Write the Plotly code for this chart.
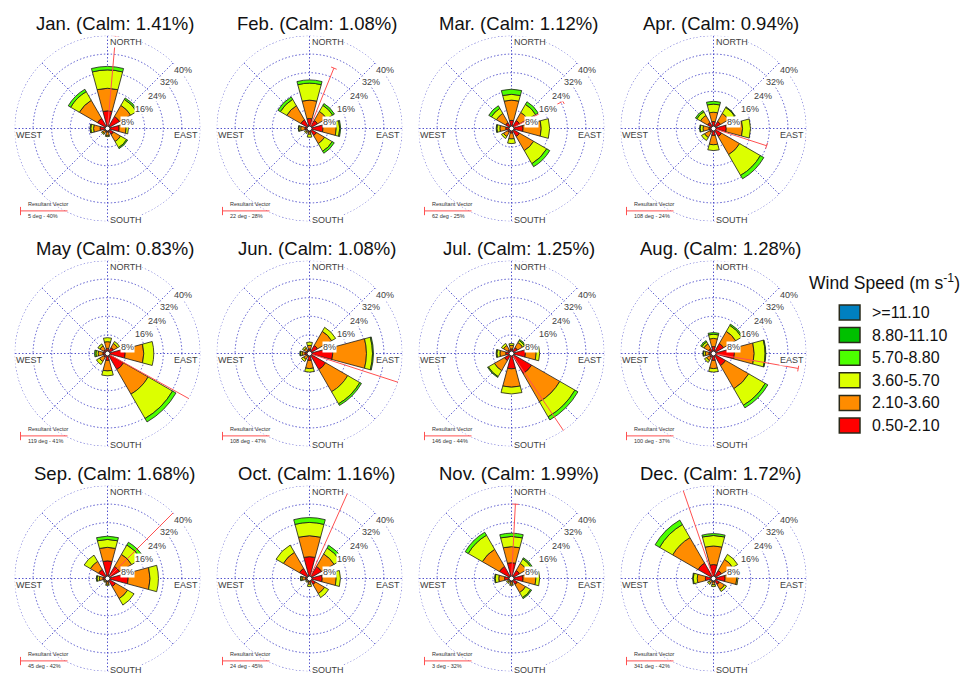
import math
import plotly.graph_objects as go

W, H = 968, 675
R_PX = 93          # radius of each rose in pixels
R_MAX = 40         # outer ring value (%)

MONTHS = ["Jan.", "Feb.", "Mar.", "Apr.", "May", "Jun.",
          "Jul.", "Aug.", "Sep.", "Oct.", "Nov.", "Dec."]
CALM = [1.41, 1.08, 1.12, 0.94, 0.83, 1.08, 1.25, 1.28, 1.68, 1.16, 1.99, 1.72]
VECTOR_DIR = [5, 22, 62, 108, 119, 108, 146, 100, 45, 24, 3, 341]
VECTOR_PCT = [40, 28, 25, 24, 41, 47, 44, 37, 42, 45, 32, 42]

DIRECTIONS = [0, 45, 90, 135, 180, 225, 270, 315]
RINGS = [8, 16, 24, 32, 40]
SPEED_BINS = ["0.50-2.10", "2.10-3.60", "3.60-5.70", "5.70-8.80", "8.80-11.10", ">=11.10"]
BIN_COLORS = ["#ff0000", "#ff8c00", "#dcff00", "#4cff00", "#00c000", "#0080c0"]

# Frequency (%) per month, directions N, NE, E, SE, S, SW, W, NW
FREQ_050_210 = [
    [7.6, 6.0, 5.0, 3.0, 1.5, 1.5, 3.2, 5.0],
    [4.3, 4.0, 5.8, 3.5, 1.5, 1.2, 2.0, 4.3],
    [3.5, 4.0, 5.0, 4.0, 2.0, 2.0, 2.5, 3.0],
    [3.0, 3.5, 5.5, 4.0, 3.0, 2.0, 2.0, 3.0],
    [2.2, 3.0, 7.6, 8.0, 3.0, 2.0, 2.0, 2.0],
    [2.0, 4.0, 10.0, 8.0, 3.0, 1.5, 2.0, 1.5],
    [2.0, 3.0, 6.0, 10.0, 6.6, 3.5, 2.5, 2.0],
    [3.0, 5.0, 9.0, 6.0, 3.0, 2.0, 2.0, 2.5],
    [7.6, 6.0, 8.9, 4.0, 1.5, 1.0, 2.0, 4.5],
    [9.4, 6.0, 5.5, 3.0, 1.5, 1.0, 1.8, 5.0],
    [6.8, 4.0, 5.0, 3.0, 1.5, 1.2, 3.0, 6.0],
    [6.0, 4.0, 5.0, 3.0, 1.5, 1.3, 3.5, 7.7],
]
FREQ_210_360 = [
    [9.7, 5.5, 3.0, 3.5, 1.5, 1.0, 2.8, 9.0],
    [7.9, 4.5, 5.7, 4.0, 1.0, 0.8, 1.8, 7.0],
    [8.7, 4.0, 7.8, 7.0, 2.5, 2.0, 2.5, 4.5],
    [4.0, 4.0, 7.0, 9.0, 4.0, 2.5, 2.5, 3.5],
    [2.9, 2.0, 8.0, 12.2, 4.5, 2.0, 2.0, 1.8],
    [1.5, 7.0, 14.5, 11.0, 3.5, 1.5, 1.2, 1.2],
    [1.5, 2.5, 4.6, 14.0, 7.9, 5.0, 2.5, 2.0],
    [3.5, 6.0, 8.5, 11.5, 3.5, 1.5, 1.5, 2.3],
    [5.8, 6.0, 9.4, 6.0, 1.0, 0.7, 1.5, 4.0],
    [9.0, 6.2, 6.0, 4.5, 1.0, 0.6, 1.2, 8.0],
    [6.9, 3.5, 5.5, 4.0, 1.0, 0.8, 2.5, 8.5],
    [8.0, 5.5, 5.0, 2.5, 1.2, 1.0, 3.5, 12.6],
]
FREQ_360_570 = [
    [7.9, 3.0, 1.0, 3.0, 0.5, 0.5, 1.2, 4.3],
    [7.3, 3.0, 1.5, 3.8, 1.3, 0.5, 0.8, 3.2],
    [2.5, 4.0, 3.6, 6.5, 2.0, 1.0, 1.3, 2.5],
    [3.5, 3.0, 3.4, 10.3, 2.5, 1.5, 1.2, 1.8],
    [1.7, 1.0, 4.3, 12.1, 2.1, 1.5, 1.0, 1.0],
    [1.4, 2.0, 2.6, 6.0, 1.5, 1.0, 0.7, 0.8],
    [0.8, 1.0, 1.5, 7.5, 2.9, 3.0, 1.3, 1.0],
    [1.8, 3.0, 4.7, 8.2, 1.5, 1.0, 0.8, 1.0],
    [3.4, 4.7, 3.6, 3.2, 0.5, 0.3, 1.0, 3.1],
    [5.7, 3.0, 1.8, 2.0, 1.0, 0.4, 0.7, 3.6],
    [4.4, 2.2, 1.6, 2.5, 0.5, 0.5, 1.5, 7.0],
    [4.5, 2.5, 0.5, 1.0, 0.8, 0.7, 1.7, 6.5],
]
FREQ_570_880 = [
    [1.5, 0.7, 0.0, 0.5, 0.0, 0.0, 0.3, 1.2],
    [1.4, 0.9, 0.4, 1.0, 0.0, 0.0, 0.2, 1.2],
    [2.2, 1.3, 0.0, 1.5, 0.0, 0.0, 0.3, 1.3],
    [1.2, 0.3, 0.0, 1.7, 0.0, 0.0, 0.3, 0.7],
    [0.0, 0.0, 0.0, 1.7, 0.0, 0.0, 0.6, 0.0],
    [0.0, 0.0, 0.4, 0.8, 0.0, 0.0, 0.3, 0.0],
    [0.0, 0.5, 0.0, 1.5, 0.0, 0.4, 0.3, 0.0],
    [0.7, 0.6, 0.3, 1.3, 0.0, 0.0, 0.3, 0.6],
    [1.4, 1.3, 0.0, 0.0, 0.0, 0.0, 0.3, 0.0],
    [2.1, 1.3, 0.0, 0.0, 0.0, 0.0, 0.2, 0.0],
    [1.4, 0.6, 0.0, 0.5, 0.0, 0.0, 0.3, 1.5],
    [0.8, 0.0, 0.0, 0.0, 0.0, 0.0, 0.3, 2.2],
]
FREQ_880_1110 = [
    [0, 0, 0, 0, 0, 0, 0, 0], [0, 0, 0, 0, 0, 0, 0, 0], [0, 0, 0, 0, 0, 0, 0, 0],
    [0, 0, 0, 0, 0, 0, 0, 0], [0, 0, 0, 0, 0, 0, 0, 0], [0, 0, 0, 0, 0, 0, 0, 0],
    [0, 0, 0, 0, 0, 0, 0, 0], [0, 0, 0, 0, 0, 0, 0, 0], [0, 0, 0, 0, 0, 0, 0, 0],
    [0, 0, 0, 0, 0, 0, 0, 0], [0, 0, 0, 0, 0, 0, 0, 0], [0, 0, 0, 0, 0, 0, 0, 0],
]
FREQ_GE_1110 = [
    [0, 0, 0, 0, 0, 0, 0, 0], [0, 0, 0, 0, 0, 0, 0, 0], [0, 0, 0, 0, 0, 0, 0, 0],
    [0, 0, 0, 0, 0, 0, 0, 0], [0, 0, 0, 0, 0, 0, 0, 0], [0, 0, 0, 0, 0, 0, 0, 0],
    [0, 0, 0, 0, 0, 0, 0, 0], [0, 0, 0, 0, 0, 0, 0, 0], [0, 0, 0, 0, 0, 0, 0, 0],
    [0, 0, 0, 0, 0, 0, 0, 0], [0, 0, 0, 0, 0, 0, 0, 0], [0, 0, 0, 0, 0, 0, 0, 0],
]
FREQ_BY_BIN = [FREQ_050_210, FREQ_210_360, FREQ_360_570,
               FREQ_570_880, FREQ_880_1110, FREQ_GE_1110]

# Ring label anchor: (radius %, bearing deg)
RING_LABEL_R = [8.9, 17.9, 25.6, 33.3, 41.2]
RING_LABEL_BEARING = [71, 62, 57, 53, 52]

# Panel layout (pixel centres)
COL_X = [107.5, 309.5, 511.5, 713.5]
ROW_Y = [128.5, 353.5, 578.5]

FONT = "Liberation Sans, Arial, sans-serif"
GRID = "#4e4ecc"
GRID_DASH = "1.4px,2.1px"
TEXT_GREY = "#404040"
VEC_RED = "#ff5050"


def px_to_paper(x, y):
    return x / W, 1 - y / H


def polar_px(cx, cy, r, bearing):
    k = R_PX / R_MAX
    a = math.radians(bearing)
    return cx + r * k * math.sin(a), cy - r * k * math.cos(a)


fig = go.Figure()
annotations = []
shapes = []
layout_polars = {}

for i, month in enumerate(MONTHS):
    row, col = divmod(i, 4)
    cx, cy = COL_X[col], ROW_Y[row]
    name = "polar" if i == 0 else f"polar{i + 1}"

    x0, y1 = px_to_paper(cx - R_PX, cy - R_PX)
    x1, y0 = px_to_paper(cx + R_PX, cy + R_PX)
    layout_polars[name] = dict(
        domain=dict(x=[x0, x1], y=[y0, y1]),
        bgcolor="white",
        barmode="stack",
        radialaxis=dict(range=[0, R_MAX], tickvals=RINGS, showticklabels=False,
                        ticks="", showline=False, gridcolor=GRID, griddash=GRID_DASH,
                        gridwidth=1),
        angularaxis=dict(direction="clockwise", rotation=90, tickvals=DIRECTIONS,
                         showticklabels=False, ticks="", showline=False,
                         gridcolor=GRID, griddash=GRID_DASH, gridwidth=1),
    )

    # outer ring
    fig.add_trace(go.Scatterpolar(
        r=[R_MAX] * 73, theta=[5 * t for t in range(73)], mode="lines",
        line=dict(color=GRID, width=1, dash=GRID_DASH), subplot=name,
        showlegend=False, hoverinfo="skip", cliponaxis=False))

    # stacked speed classes
    for b, freq in enumerate(FREQ_BY_BIN):
        fig.add_trace(go.Barpolar(
            r=freq[i], theta=DIRECTIONS, width=[30] * len(DIRECTIONS),
            marker=dict(color=BIN_COLORS[b], line=dict(color="#1a1a1a", width=0.8)),
            name=SPEED_BINS[b], subplot=name, showlegend=False))

    # resultant vector with end tick
    d, m = VECTOR_DIR[i], VECTOR_PCT[i]
    fig.add_trace(go.Scatterpolar(
        r=[0, m], theta=[d, d], mode="lines", line=dict(color=VEC_RED, width=1),
        subplot=name, showlegend=False, cliponaxis=False, hoverinfo="skip"))
    half = 1.3
    rt = math.hypot(m, half)
    dt = math.degrees(math.atan(half / m))
    fig.add_trace(go.Scatterpolar(
        r=[rt, rt], theta=[d - dt, d + dt], mode="lines",
        line=dict(color=VEC_RED, width=1), subplot=name, showlegend=False,
        cliponaxis=False, hoverinfo="skip"))

    # calm circle
    fig.add_trace(go.Scatterpolar(
        r=[0], theta=[0], mode="markers",
        marker=dict(size=5, color="white", line=dict(color="#222", width=1)),
        subplot=name, showlegend=False, hoverinfo="skip"))

    # title
    tx, ty = px_to_paper(cx + 7, cy - 105)
    annotations.append(dict(x=tx, y=ty, xref="paper", yref="paper",
                            text=f"{month} (Calm: {CALM[i]:.2f}%)", showarrow=False,
                            font=dict(family=FONT, size=18.5, color="#111"),
                            xanchor="center", yanchor="middle"))

    # ring labels
    for val, lr, lb in zip(RINGS, RING_LABEL_R, RING_LABEL_BEARING):
        lx, ly = polar_px(cx, cy, lr, lb)
        px, py = px_to_paper(lx, ly)
        annotations.append(dict(x=px, y=py, xref="paper", yref="paper",
                                text=f"{val}%", showarrow=False, bgcolor="white",
                                borderpad=0,
                                font=dict(family=FONT, size=9, color=TEXT_GREY),
                                xanchor="center", yanchor="middle"))

    # compass labels
    for txt, dx, dy, xa in [("NORTH", 1, -86.6, "left"), ("SOUTH", 1, 91, "left"),
                            ("EAST", 91.5, 6.5, "right"), ("WEST", -92.3, 6.5, "left")]:
        px, py = px_to_paper(cx + dx, cy + dy)
        annotations.append(dict(x=px, y=py, xref="paper", yref="paper", text=txt,
                                showarrow=False, bgcolor="white", borderpad=0,
                                font=dict(family=FONT, size=9, color=TEXT_GREY),
                                xanchor=xa, yanchor="middle"))

    # resultant vector key
    kx, ky = px_to_paper(cx - 82, cy + 75.7)
    annotations.append(dict(x=kx, y=ky, xref="paper", yref="paper",
                            text="Resultant Vector", showarrow=False,
                            font=dict(family=FONT, size=5.5, color="#333"),
                            xanchor="left", yanchor="middle"))
    kx, ky = px_to_paper(cx - 82, cy + 87.7)
    annotations.append(dict(x=kx, y=ky, xref="paper", yref="paper",
                            text=f"{VECTOR_DIR[i]} deg - {VECTOR_PCT[i]}%", showarrow=False,
                            font=dict(family=FONT, size=5.5, color="#333"),
                            xanchor="left", yanchor="middle"))
    lx0, ly0 = px_to_paper(cx - 87, cy + 82.4)
    lx1, _ = px_to_paper(cx - 40, cy + 82.4)
    shapes.append(dict(type="line", xref="paper", yref="paper", x0=lx0, x1=lx1,
                       y0=ly0, y1=ly0, line=dict(color=VEC_RED, width=1)))
    _, ty0 = px_to_paper(cx - 87, cy + 78.4)
    _, ty1 = px_to_paper(cx - 87, cy + 86.7)
    shapes.append(dict(type="line", xref="paper", yref="paper", x0=lx0, x1=lx0,
                       y0=ty0, y1=ty1, line=dict(color=VEC_RED, width=1)))

# wind speed key
tx, ty = px_to_paper(807, 282)
annotations.append(dict(x=tx, y=ty, xref="paper", yref="paper",
                        text="Wind Speed (m s<sup>-1</sup>)", showarrow=False,
                        font=dict(family=FONT, size=17.5, color="#111"),
                        xanchor="left", yanchor="middle"))
for k, b in enumerate(reversed(range(len(SPEED_BINS)))):
    yc = 312.5 + 22.6 * k
    bx0, by0 = px_to_paper(839.3, yc - 7.5)
    bx1, by1 = px_to_paper(860, yc + 7.5)
    shapes.append(dict(type="rect", xref="paper", yref="paper", x0=bx0, x1=bx1,
                       y0=by1, y1=by0, fillcolor=BIN_COLORS[b],
                       line=dict(color="#2a2a1a", width=1.5)))
    lx, ly = px_to_paper(870, yc)
    annotations.append(dict(x=lx, y=ly, xref="paper", yref="paper",
                            text=SPEED_BINS[b], showarrow=False,
                            font=dict(family=FONT, size=16, color="#111"),
                            xanchor="left", yanchor="middle"))

fig.update_layout(
    width=W, height=H, margin=dict(l=0, r=0, t=0, b=0),
    paper_bgcolor="white", plot_bgcolor="white", showlegend=False,
    annotations=annotations, shapes=shapes, **layout_polars)

fig.write_html("out.html")
